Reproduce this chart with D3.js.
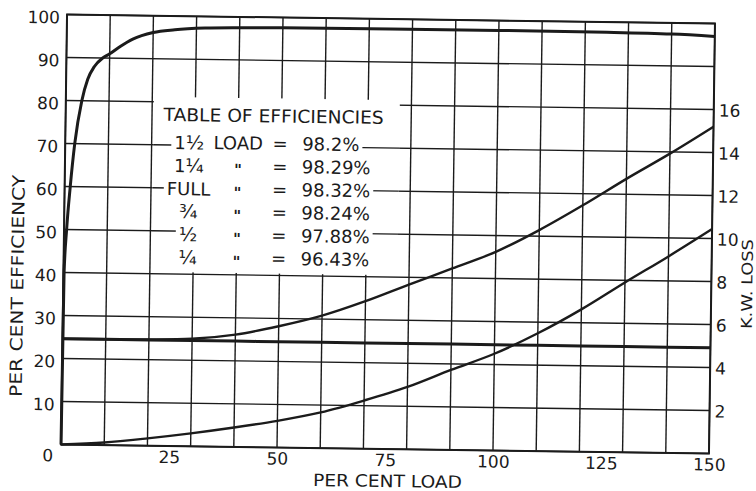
<!DOCTYPE html>
<html>
<head>
<meta charset="utf-8">
<script src="https://cdn.jsdelivr.net/npm/d3@7"></script>
<style>
  body { margin: 0; background: #fff; }
  svg { display: block; }
  text { font-family: "DejaVu Sans", sans-serif; fill: #1b1b1b; }
</style>
</head>
<body>
<svg id="chart" width="756" height="491"></svg>
<script>
// Efficiency against load (per cent of rated load)
const effLoad = [0, 0.15, 0.6, 1.3, 2.2, 3.7, 5, 6.5, 8.4, 10, 12.5, 15.3, 20, 25, 32, 40, 50, 75, 100, 125, 140, 150];
const efficiency = [0, 40, 50, 60, 70, 80, 85, 88, 90, 91, 92.8, 94.5, 96.1, 96.8, 97.3, 97.5, 97.6, 97.7, 97.7, 97.6, 97.4, 97.0];

// Losses in kW against load
const lossLoad = [0, 10, 20, 30, 40, 50, 60, 70, 80, 90, 100, 110, 120, 130, 140, 150];
const totalLossKW = [4.92, 4.92, 4.94, 5.0, 5.22, 5.64, 6.16, 6.86, 7.66, 8.44, 9.24, 10.28, 11.46, 12.72, 13.92, 15.2];
const coreLossKW = [4.92, 4.92, 4.92, 4.92, 4.92, 4.92, 4.92, 4.92, 4.92, 4.92, 4.92, 4.92, 4.92, 4.92, 4.92, 4.92];
const copperLossKW = [0, 0.12, 0.34, 0.6, 0.9, 1.24, 1.66, 2.24, 2.9, 3.72, 4.5, 5.48, 6.62, 7.9, 9.14, 10.44];

// Axis ticks
const loadTicks = [25, 50, 75, 100, 125, 150];
const efficiencyTicks = [10, 20, 30, 40, 50, 60, 70, 80, 90, 100];
const lossTicks = [2, 4, 6, 8, 10, 12, 14, 16];
const loadGrid = d3.range(0, 151, 10);
const effGrid = d3.range(0, 101, 10);

// Table of efficiencies: whole part, fraction part (or word), efficiency
const tableWhole = ["1", "1", "FULL", "", "", ""];
const tableFraction = ["½", "¼", "", "¾", "½", "¼"];
const tableEfficiencies = ["98.2%", "98.29%", "98.32%", "98.24%", "97.88%", "96.43%"];

const ink = "#1b1b1b";
const L = 64, R = 712, T = 19, B = 449;

const svg = d3.select("#chart");
svg.append("rect").attr("width", 756).attr("height", 491).attr("fill", "#fff");

// the drawing sits a little off square on the sheet
const g = svg.append("g").attr("transform", "rotate(0.8 388 234)");

const x = d3.scaleLinear().domain([0, 150]).range([L, R]);
const yEff = d3.scaleLinear().domain([0, 100]).range([B, T]);
const yKW = d3.scaleLinear().domain([0, 20]).range([B, T]);

// grid
const grid = g.append("g").attr("stroke", ink).attr("stroke-width", 1.4);
grid.selectAll("line.v").data(loadGrid).join("line").attr("class", "v")
  .attr("x1", d => x(d)).attr("x2", d => x(d)).attr("y1", T).attr("y2", B);
grid.selectAll("line.h").data(effGrid).join("line").attr("class", "h")
  .attr("x1", L).attr("x2", R).attr("y1", d => yEff(d)).attr("y2", d => yEff(d));

// frame
g.append("rect").attr("x", L).attr("y", T).attr("width", R - L).attr("height", B - T)
  .attr("fill", "none").attr("stroke", ink).attr("stroke-width", 2);

// panel behind the table clears the grid
const boxL = 152, boxR = 398, boxT = 100, boxB = 275;
g.append("rect").attr("x", boxL).attr("y", boxT).attr("width", boxR - boxL).attr("height", boxB - boxT)
  .attr("fill", "#fff");
// horizontal rules continue through the panel
g.append("g").attr("stroke", ink).attr("stroke-width", 1.4)
  .selectAll("line").data([50, 60, 70]).join("line")
  .attr("x1", boxL).attr("x2", boxR).attr("y1", d => yEff(d)).attr("y2", d => yEff(d));

// curves
const effLine = d3.line().x(d => x(d[0])).y(d => yEff(d[1])).curve(d3.curveMonotoneX);
const kwLine = d3.line().x(d => x(d[0])).y(d => yKW(d[1])).curve(d3.curveMonotoneX);

g.append("path").datum(d3.zip(lossLoad, coreLossKW)).attr("d", kwLine)
  .attr("fill", "none").attr("stroke", ink).attr("stroke-width", 3);
g.append("path").datum(d3.zip(lossLoad, totalLossKW)).attr("d", kwLine)
  .attr("fill", "none").attr("stroke", ink).attr("stroke-width", 2.4);
g.append("path").datum(d3.zip(lossLoad, copperLossKW)).attr("d", kwLine)
  .attr("fill", "none").attr("stroke", ink).attr("stroke-width", 2.4);
g.append("path").datum(d3.zip(effLoad, efficiency)).attr("d", effLine)
  .attr("fill", "none").attr("stroke", ink).attr("stroke-width", 3);

// axes (labels only, the grid carries the rules)
const axisFont = 17;
const leftAxis = g.append("g").attr("transform", `translate(${L - 7},3)`)
  .call(d3.axisLeft(yEff).tickValues(efficiencyTicks).tickSize(0).tickPadding(0));
const bottomAxis = g.append("g").attr("transform", `translate(0,${B + 5})`)
  .call(d3.axisBottom(x).tickValues(loadTicks).tickSize(0).tickPadding(0));
const rightAxis = g.append("g").attr("transform", `translate(${R + 5},1)`)
  .call(d3.axisRight(yKW).tickValues(lossTicks).tickSize(0).tickPadding(0));
[leftAxis, bottomAxis, rightAxis].forEach(a => {
  a.select(".domain").remove();
  a.selectAll("text").attr("font-size", axisFont).attr("font-family", "DejaVu Sans, sans-serif").attr("fill", ink);
});
g.append("text").attr("x", 51).attr("y", 460).attr("text-anchor", "middle")
  .attr("dominant-baseline", "central").attr("font-size", axisFont).text("0");

// axis titles
g.append("text").attr("transform", "translate(18,291) rotate(-90)")
  .attr("text-anchor", "middle").attr("dominant-baseline", "central")
  .attr("font-size", 17).attr("textLength", 222).attr("lengthAdjust", "spacingAndGlyphs")
  .text("PER CENT EFFICIENCY");
g.append("text").attr("x", 391).attr("y", 481)
  .attr("text-anchor", "middle").attr("dominant-baseline", "central")
  .attr("font-size", 17).attr("textLength", 149).attr("lengthAdjust", "spacingAndGlyphs")
  .text("PER CENT LOAD");
g.append("text").attr("transform", "translate(748,279) rotate(-90)")
  .attr("text-anchor", "middle").attr("dominant-baseline", "central")
  .attr("font-size", 15).attr("textLength", 90).attr("lengthAdjust", "spacingAndGlyphs")
  .text("K.W. LOSS");

// table of efficiencies
const tableFont = 18;
g.append("text").attr("x", 162).attr("y", 117.5).attr("dominant-baseline", "central")
  .attr("font-size", tableFont).attr("textLength", 220).attr("lengthAdjust", "spacingAndGlyphs")
  .text("TABLE OF EFFICIENCIES");

tableEfficiencies.forEach((value, i) => {
  const cy = 145 + 23 * i;
  const row = g.append("g");
  const bg = row.append("rect").attr("fill", "#fff");
  const lead = row.append("text").attr("x", 188).attr("y", cy).attr("text-anchor", "middle")
    .attr("dominant-baseline", "central").attr("font-size", tableFont);
  if (tableWhole[i]) lead.append("tspan").text(tableWhole[i]);
  if (tableFraction[i]) lead.append("tspan").attr("font-size", 19).text(tableFraction[i]);
  if (i === 0) {
    row.append("text").attr("x", 237).attr("y", cy).attr("text-anchor", "middle")
      .attr("dominant-baseline", "central").attr("font-size", tableFont).text("LOAD");
  } else {
    row.append("text").attr("x", 237).attr("y", cy + 4).attr("text-anchor", "middle")
      .attr("dominant-baseline", "central").attr("font-size", 15).attr("font-weight", "bold").text("\"");
  }
  row.append("text").attr("x", 279).attr("y", cy).attr("text-anchor", "middle")
    .attr("dominant-baseline", "central").attr("font-size", tableFont).text("=");
  row.append("text").attr("x", 301).attr("y", cy)
    .attr("dominant-baseline", "central").attr("font-size", tableFont).text(value);
  const bb = row.node().getBBox();
  bg.attr("x", bb.x - 3).attr("y", cy - 9).attr("width", bb.width + 6).attr("height", 18);
});
</script>
</body>
</html>
